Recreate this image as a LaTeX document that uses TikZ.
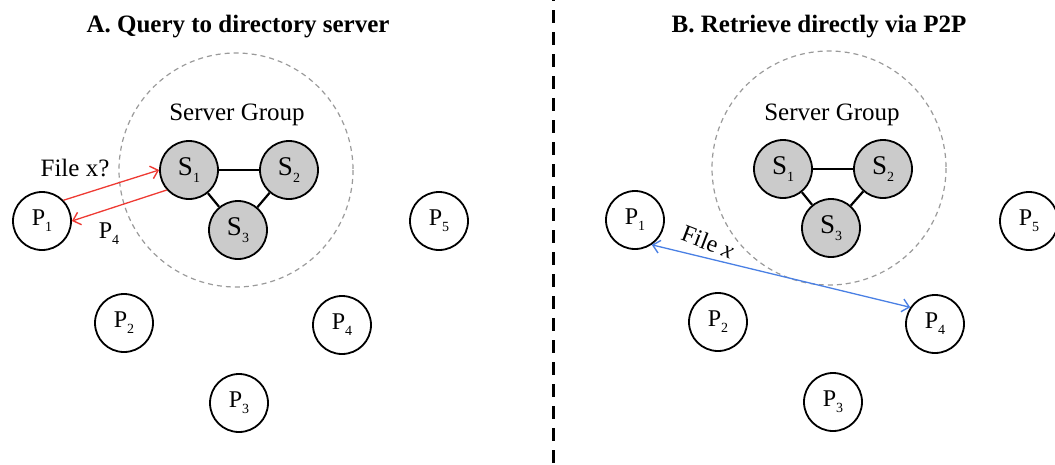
\documentclass[tikz,border=0pt]{standalone}
\usepackage{fontspec}
\setmainfont{Liberation Serif}
\usetikzlibrary{arrows.meta}

\definecolor{srvgray}{HTML}{CBCBCB}
\definecolor{groupgray}{HTML}{9A9A9A}
\definecolor{qred}{HTML}{EE3A33}
\definecolor{xblue}{HTML}{4A80E4}

% label with a lowered index, e.g. P_1
\newcommand\idx[2]{#1\raisebox{-0.26em}{\fontsize{14}{14}\selectfont #2}}

\tikzset{
  peer/.style={circle, draw, line width=1.8pt, minimum size=58pt, inner sep=0pt,
    font=\fontsize{24}{24}\selectfont},
  server/.style={peer, fill=srvgray, font=\fontsize{27}{27}\selectfont},
  link/.style={line width=2.2pt},
  group/.style={draw=groupgray, line width=1.2pt, dash pattern=on 5pt off 4pt},
  title/.style={font=\fontsize{25}{25}\selectfont\bfseries},
  note/.style={font=\fontsize{25}{25}\selectfont},
  query/.style={draw=qred, line width=1.3pt, -{Straight Barb[length=7pt,width=13pt,line width=1.4pt]}},
  fetch/.style={draw=xblue, line width=1.3pt, {Straight Barb[length=7pt,width=13pt,line width=1.4pt]}-{Straight Barb[length=7pt,width=13pt,line width=1.4pt]}},
  divider/.style={line width=3pt, dash pattern=on 12.7pt off 9.3pt, dash phase=12pt}
}

\begin{document}
\begin{tikzpicture}[x=1pt, y=-1pt]
  \useasboundingbox (0,0) rectangle (1055,464);
  \clip (0,0) rectangle (1055,464);

  % panel divider
  \coordinate (divtop) at (553,0);
  \coordinate (divbot) at (553,464);
  \draw[divider] (divtop) -- (divbot);

  % ---------- A: query to directory server ----------
  \node[title] (ta) at (238,27) {A. Query to directory server};
  \draw[group] (236,170) circle (117);
  \node[note] (ga) at (237,115) {Server Group};

  \node[server] (aS1) at (189,170) {\idx{S}{1}};
  \node[server] (aS2) at (289,170) {\idx{S}{2}};
  \node[server] (aS3) at (238,230) {\idx{S}{3}};
  \draw[link] (aS1) -- (aS2);
  \draw[link] (aS1) -- (aS3);
  \draw[link] (aS2) -- (aS3);

  \node[peer] (aP1) at (42,221) {\idx{P}{1}};
  \node[peer] (aP2) at (124,323) {\idx{P}{2}};
  \node[peer] (aP3) at (239,403) {\idx{P}{3}};
  \node[peer] (aP4) at (342,325) {\idx{P}{4}};
  \node[peer] (aP5) at (439,221) {\idx{P}{5}};

  \draw[query] (aP1.44) -- (aS1.180);
  \draw[query] (aS1.222) -- (aP1.0);
  \node[note] (qa) at (75,168) {File x?};
  \node[font=\fontsize{24}{24}\selectfont] (ra) at (109,234) {\idx{P}{4}};

  % ---------- B: retrieve directly via P2P ----------
  \node[title] (tb) at (819,27) {B. Retrieve directly via P2P};
  \draw[group] (829,168) circle (117);
  \node[note] (gb) at (832,115) {Server Group};

  \node[server] (bS1) at (783,169) {\idx{S}{1}};
  \node[server] (bS2) at (883,169) {\idx{S}{2}};
  \node[server] (bS3) at (831,228) {\idx{S}{3}};
  \draw[link] (bS1) -- (bS2);
  \draw[link] (bS1) -- (bS3);
  \draw[link] (bS2) -- (bS3);

  \node[peer] (bP1) at (635,220) {\idx{P}{1}};
  \node[peer] (bP2) at (718,322) {\idx{P}{2}};
  \node[peer] (bP3) at (833,402) {\idx{P}{3}};
  \node[peer] (bP4) at (935,324) {\idx{P}{4}};
  \node[peer] (bP5) at (1029,221) {\idx{P}{5}};

  \draw[fetch] (bP1.-56) -- (bP4.146);
  \node[font=\fontsize{24}{24}\selectfont, rotate=-21] (fx) at (708,242) {File \textit{x}};
\end{tikzpicture}
\end{document}
